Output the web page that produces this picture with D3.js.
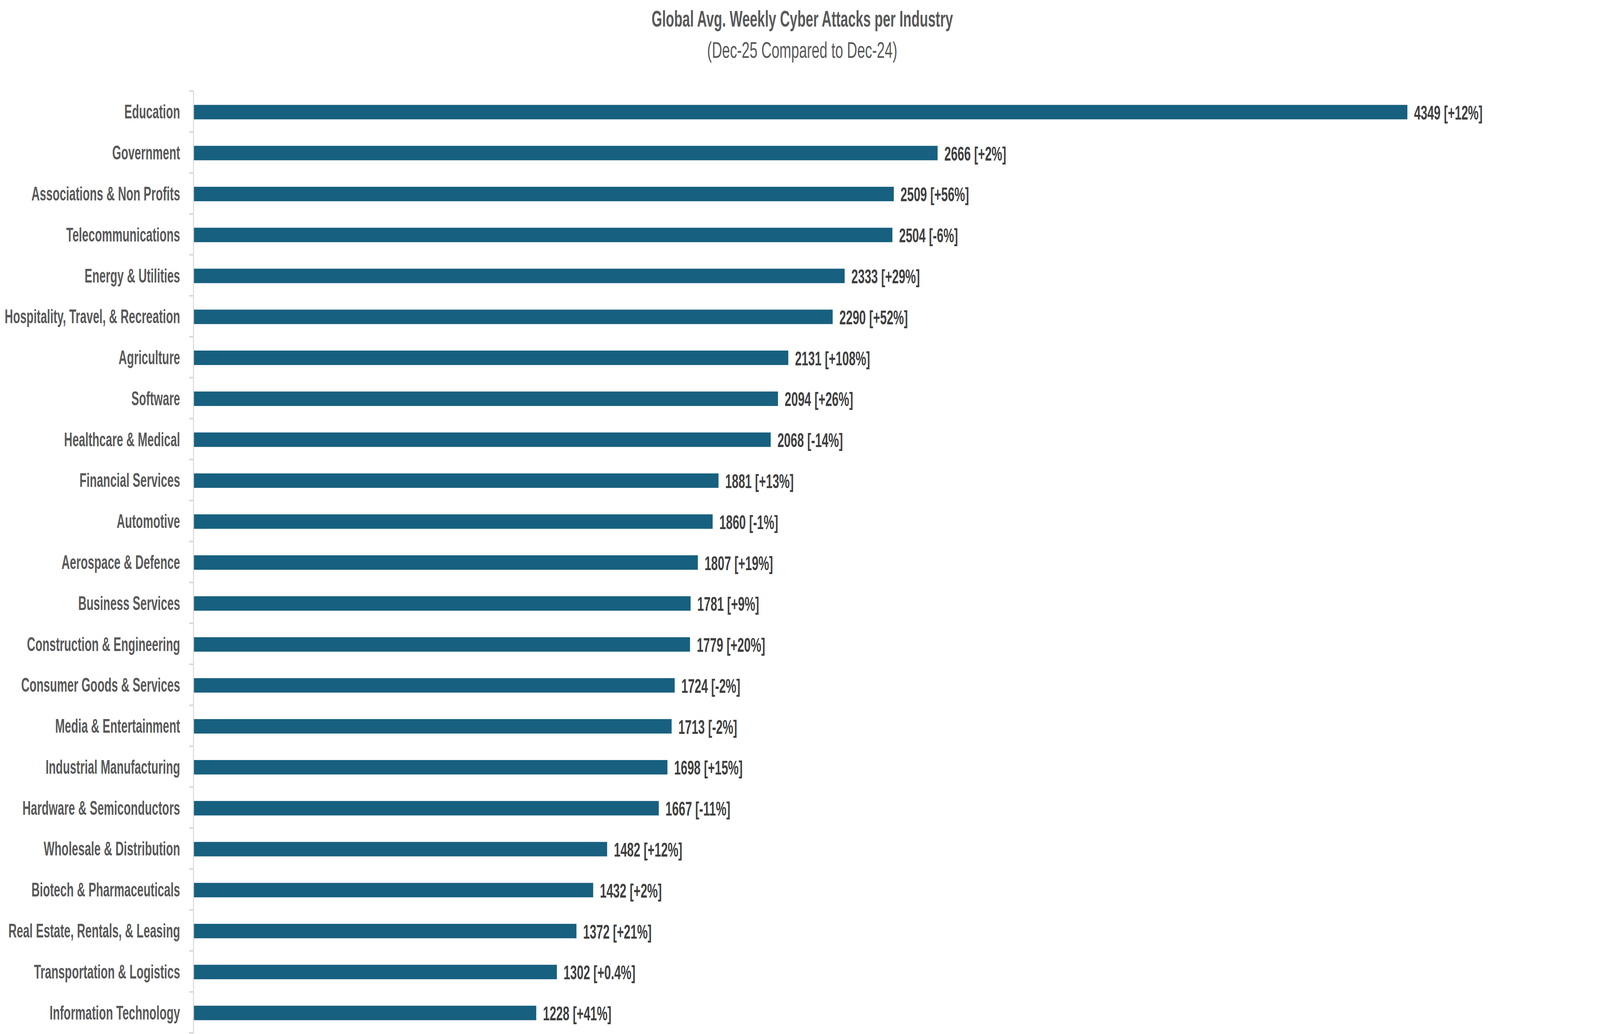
<!DOCTYPE html>
<html lang="en">
<head>
<meta charset="utf-8">
<title>Global Avg. Weekly Cyber Attacks per Industry</title>
<script src="https://cdn.jsdelivr.net/npm/d3@7"></script>
<style>
  html, body { margin: 0; padding: 0; background: #fff; overflow: hidden; }
  svg { display: block; }
  text { font-family: "Liberation Sans", Arial, sans-serif; }
</style>
</head>
<body>
<script>
// data
var industries = ["Education", "Government", "Associations & Non Profits", "Telecommunications",
  "Energy & Utilities", "Hospitality, Travel, & Recreation", "Agriculture", "Software",
  "Healthcare & Medical", "Financial Services", "Automotive", "Aerospace & Defence",
  "Business Services", "Construction & Engineering", "Consumer Goods & Services",
  "Media & Entertainment", "Industrial Manufacturing", "Hardware & Semiconductors",
  "Wholesale & Distribution", "Biotech & Pharmaceuticals", "Real Estate, Rentals, & Leasing",
  "Transportation & Logistics", "Information Technology"];
var attacks = [4349, 2666, 2509, 2504, 2333, 2290, 2131, 2094, 2068, 1881, 1860, 1807,
  1781, 1779, 1724, 1713, 1698, 1667, 1482, 1432, 1372, 1302, 1228];
var changes = ["+12%", "+2%", "+56%", "-6%", "+29%", "+52%", "+108%", "+26%", "-14%", "+13%",
  "-1%", "+19%", "+9%", "+20%", "-2%", "-2%", "+15%", "-11%", "+12%", "+2%", "+21%",
  "+0.4%", "+41%"];

var w = 6450, h = 2646;
var plotLeft = 780, plotTop = 233, plotBottom = 2643;
var barH = 37;
var narrow = 0.93; // reference font is a narrow face

// drawn in a 6450x2646 box stretched over the whole window
var svg = d3.select("body").append("svg")
  .attr("viewBox", "0 0 " + w + " " + h)
  .attr("preserveAspectRatio", "none")
  .attr("width", "100vw").attr("height", "100vh");

var y = d3.scaleBand().domain(industries).range([plotTop, plotBottom]).padding(0);
var x = d3.scaleLinear().domain([0, 5000]).range([plotLeft, plotLeft + 5626]);

function barY(d) { return y(d) + (y.bandwidth() - barH) / 2 + 1.5; }

// bars
svg.selectAll("rect.bar").data(industries).enter().append("rect")
  .attr("class", "bar")
  .attr("x", x(0))
  .attr("y", barY)
  .attr("width", function(d, i) { return x(attacks[i]) - x(0); })
  .attr("height", barH)
  .attr("fill", "#17607f");

// value labels
svg.selectAll("text.val").data(industries).enter().append("text")
  .attr("class", "val")
  .attr("transform", function(d, i) {
    return "translate(" + (x(attacks[i]) + 27) + "," + (barY(d) + barH / 2 + 19) + ") scale(0.96,1)";
  })
  .attr("font-size", 50).attr("font-weight", "bold").attr("fill", "#404040")
  .text(function(d, i) { return attacks[i] + " [" + changes[i] + "]"; });

// category axis
var yaxis = d3.axisLeft(y).tickSize(0).tickPadding(54);
var g = svg.append("g").attr("transform", "translate(" + plotLeft + ",0)").call(yaxis);
g.attr("font-family", null).attr("font-size", null);
g.select(".domain").remove();
g.selectAll("text")
  .attr("font-size", 50).attr("font-weight", "bold").attr("fill", "#595959")
  .attr("x", -54 / narrow).attr("dy", "0.36em")
  .attr("transform", "scale(" + narrow + ",1)");

// axis line and ticks between categories
svg.append("line").attr("x1", plotLeft).attr("x2", plotLeft).attr("y1", plotTop).attr("y2", plotBottom)
  .attr("stroke", "#d9d9d9").attr("stroke-width", 4);
var bounds = industries.map(function(d) { return y(d); }).concat([plotBottom]);
svg.selectAll("line.tick").data(bounds).enter().append("line")
  .attr("class", "tick")
  .attr("x1", plotLeft - 18).attr("x2", plotLeft)
  .attr("y1", function(d) { return d; }).attr("y2", function(d) { return d; })
  .attr("stroke", "#d9d9d9").attr("stroke-width", 4);

// titles
svg.append("text").attr("transform", "translate(3234,68) scale(0.96,1)").attr("text-anchor", "middle")
  .attr("font-size", 57).attr("font-weight", "bold").attr("fill", "#595959")
  .text("Global Avg. Weekly Cyber Attacks per Industry");
svg.append("text").attr("x", 3234).attr("y", 148).attr("text-anchor", "middle")
  .attr("font-size", 57).attr("fill", "#595959")
  .text("(Dec-25 Compared to Dec-24)");
</script>
</body>
</html>
